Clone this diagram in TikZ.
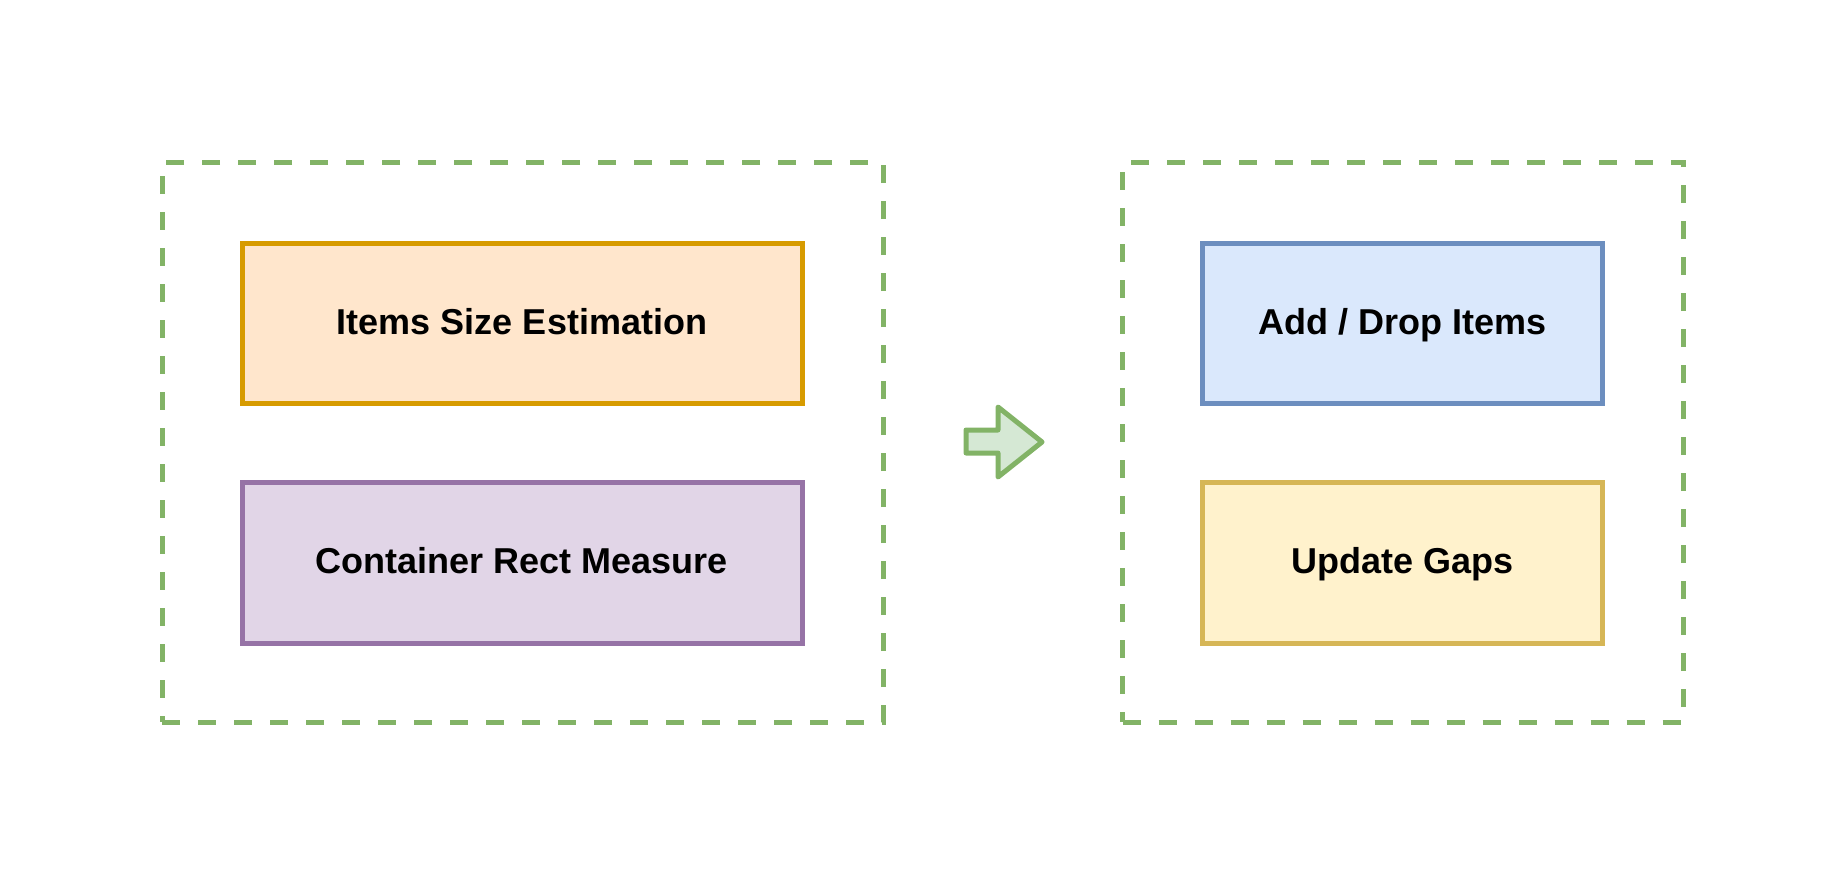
\documentclass[tikz,border=0pt]{standalone}
\usepackage{fontspec}
\setmainfont{Liberation Sans}
\definecolor{orfill}{HTML}{FFE6CC}\definecolor{ordraw}{HTML}{D79B00}
\definecolor{pufill}{HTML}{E1D5E7}\definecolor{pudraw}{HTML}{9673A6}
\definecolor{blfill}{HTML}{DAE8FC}\definecolor{bldraw}{HTML}{6C8EBF}
\definecolor{yefill}{HTML}{FFF2CC}\definecolor{yedraw}{HTML}{D6B656}
\definecolor{grfill}{HTML}{D5E8D4}\definecolor{grdraw}{HTML}{82B366}
\begin{document}
\begin{tikzpicture}[x=1pt,y=-1pt,
  stepbox/.style={draw, line width=5pt, rectangle, inner sep=0pt, align=center,
    text height=29pt, text depth=7pt,
    font=\fontsize{36}{42}\selectfont\bfseries},
  groupbox/.style={draw=grdraw, line width=5pt, dash pattern=on 18pt off 18pt, rectangle, inner sep=0pt}]
\useasboundingbox (0,0) rectangle (1846,886);
\node[groupbox, minimum width=721pt, minimum height=560pt] (g1) at (522.5,442) {};
\node[groupbox, minimum width=561pt, minimum height=560pt] (g2) at (1403,442) {};
\node[stepbox, draw=ordraw, fill=orfill, minimum width=560pt, minimum height=160pt] (est) at (522,323) {Items Size Estimation};
\node[stepbox, draw=pudraw, fill=pufill, minimum width=560pt, minimum height=161pt] (meas) at (522,562.5) {Container Rect Measure};
\node[stepbox, draw=bldraw, fill=blfill, minimum width=400pt, minimum height=160pt] (add) at (1402.5,323) {Add / Drop Items};
\node[stepbox, draw=yedraw, fill=yefill, minimum width=400pt, minimum height=161pt] (gaps) at (1402.5,562.5) {Update Gaps};
\draw[draw=grdraw, fill=grfill, line width=5pt, line join=round]
  (966,430) -- (998,430) -- (998,407) -- (1042,442) -- (998,477) -- (998,453) -- (966,453) -- cycle;
\end{tikzpicture}
\end{document}
